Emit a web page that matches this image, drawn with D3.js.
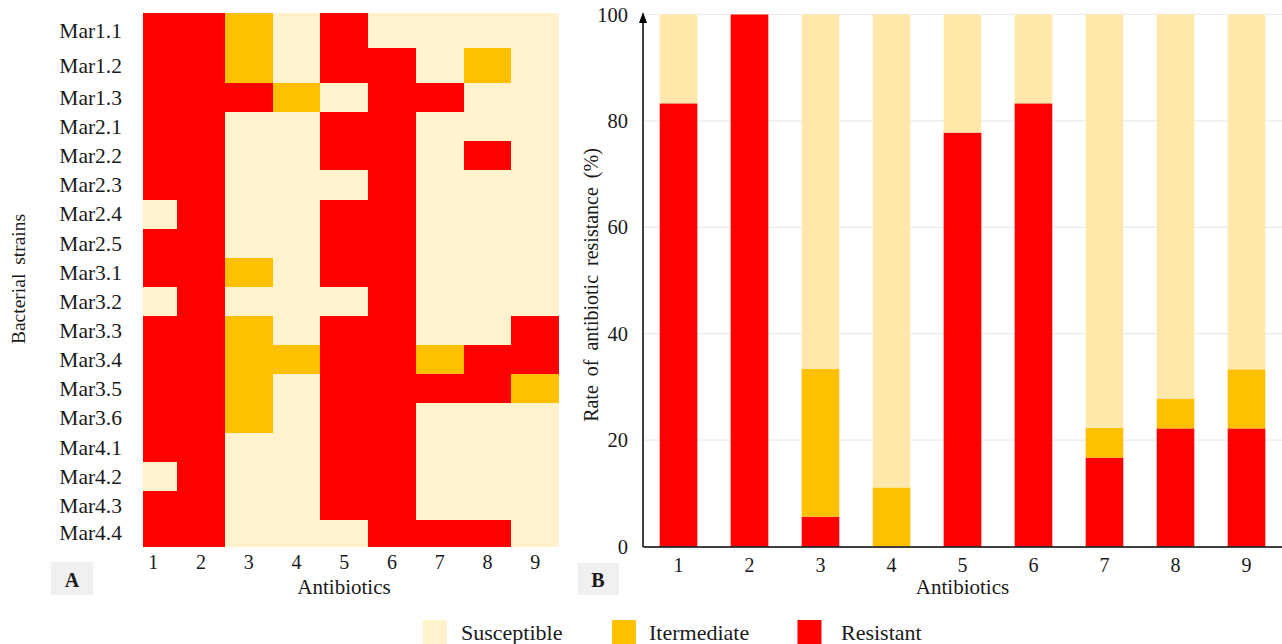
<!DOCTYPE html>
<html>
<head>
<meta charset="utf-8">
<script src="https://cdn.jsdelivr.net/npm/d3@7"></script>
<style>
  html, body { margin: 0; padding: 0; background: #fff; }
  svg { display: block; }
  svg text { font-family: "Liberation Serif", "Times New Roman", Times, serif !important; }
</style>
</head>
<body>
<svg id="chart" width="1282" height="644"></svg>
<script>
// ---------- DATA ----------
const strains = ["Mar1.1","Mar1.2","Mar1.3","Mar2.1","Mar2.2","Mar2.3","Mar2.4","Mar2.5",
  "Mar3.1","Mar3.2","Mar3.3","Mar3.4","Mar3.5","Mar3.6","Mar4.1","Mar4.2","Mar4.3","Mar4.4"];
const antibiotics = ["1","2","3","4","5","6","7","8","9"];
// per strain: status for antibiotics 1..9 (R = resistant, I = intermediate, S = susceptible)
const strainStatus = [
  "RRISRSSSS", // Mar1.1
  "RRISRRSIS", // Mar1.2
  "RRRISRRSS", // Mar1.3
  "RRSSRRSSS", // Mar2.1
  "RRSSRRSRS", // Mar2.2
  "RRSSSRSSS", // Mar2.3
  "SRSSRRSSS", // Mar2.4
  "RRSSRRSSS", // Mar2.5
  "RRISRRSSS", // Mar3.1
  "SRSSSRSSS", // Mar3.2
  "RRISRRSSR", // Mar3.3
  "RRIIRRIRR", // Mar3.4
  "RRISRRRRI", // Mar3.5
  "RRISRRSSS", // Mar3.6
  "RRSSRRSSS", // Mar4.1
  "SRSSRRSSS", // Mar4.2
  "RRSSRRSSS", // Mar4.3
  "RRSSSRRRS"  // Mar4.4
];
// panel B: rates (%) per antibiotic
const resistantRate    = [83.3, 100, 5.6, 0, 77.8, 83.3, 16.7, 22.2, 22.2];
const intermediateRate = [0, 0, 27.8, 11.1, 0, 0, 5.6, 5.6, 11.1];
const susceptibleRate  = [16.7, 0, 66.6, 88.9, 22.2, 16.7, 77.7, 72.2, 66.7];
const yTicks = [0, 20, 40, 60, 80, 100];
const legendLabels = ["Susceptible", "Itermediate", "Resistant"];
const statusCodes = ["S", "I", "R"];

// ---------- STYLE ----------
const heatColor = { S: "#FFF2CC", I: "#FFC000", R: "#FF0000" };
const barColor  = { S: "#FFE8AA", I: "#FFC000", R: "#FF0000" };
const FONT = '"Liberation Serif", "Times New Roman", serif';

const svg = d3.select("#chart");

// ---------- PANEL A : heatmap ----------
const xA = d3.scaleBand().domain(antibiotics).range([129.5, 559]).padding(0);
// row index -> pixel (the source image has its first two rows slightly taller)
const yA = d3.scaleLinear().domain([0, 2, strains.length - 1, strains.length]).range([13, 83, 520, 546]);

svg.append("clipPath").attr("id", "clipA")
  .append("rect").attr("x", 143).attr("y", 0).attr("width", 559 - 143).attr("height", 644);

const cells = [];
strains.forEach((s, i) => {
  antibiotics.forEach((a, j) => cells.push({ row: i, ab: a, st: strainStatus[i][j] }));
});

svg.append("g").attr("clip-path", "url(#clipA)").attr("shape-rendering", "crispEdges")
  .selectAll("rect").data(cells).join("rect")
  .attr("x", d => xA(d.ab))
  .attr("y", d => yA(d.row))
  .attr("width", xA.bandwidth() + 0.6)
  .attr("height", d => yA(d.row + 1) - yA(d.row) + 0.6)
  .attr("fill", d => heatColor[d.st]);

const axA_x = svg.append("g").attr("transform", "translate(0,546)")
  .call(d3.axisBottom(xA).tickSize(0).tickPadding(9));
axA_x.attr("font-family", FONT);
axA_x.select(".domain").remove();
axA_x.selectAll("text").attr("font-size", 20).attr("fill", "#1a1a1a");

const axA_y = svg.append("g").attr("transform", "translate(122,0)")
  .call(d3.axisLeft(yA).tickValues(d3.range(strains.length).map(i => i + 0.5))
    .tickFormat(v => strains[Math.floor(v)]).tickSize(0).tickPadding(0));
axA_y.attr("font-family", FONT);
axA_y.select(".domain").remove();
axA_y.selectAll("text").attr("font-size", 21.5).attr("fill", "#1a1a1a");

svg.append("text").attr("x", 344).attr("y", 594).attr("text-anchor", "middle")
  .attr("font-size", 21).attr("fill", "#1a1a1a").text("Antibiotics");

svg.append("text").attr("transform", "translate(25,279) rotate(-90)")
  .attr("text-anchor", "middle").attr("font-size", 19.5).attr("word-spacing", 4)
  .attr("fill", "#1a1a1a").text("Bacterial strains");

// panel label A
svg.append("rect").attr("x", 51).attr("y", 562).attr("width", 42).attr("height", 33).attr("fill", "#F0F0F0");
svg.append("text").attr("x", 72).attr("y", 587).attr("text-anchor", "middle")
  .attr("font-size", 20).attr("font-weight", "bold").attr("fill", "#1a1a1a").text("A");

// ---------- PANEL B : stacked bars ----------
const xB = d3.scaleBand().domain(antibiotics).range([643, 1282]).paddingInner(0.47).paddingOuter(0.235);
const yB = d3.scaleLinear().domain([0, 100]).range([546.5, 14.5]);

// gridlines
svg.append("g").selectAll("line").data(yTicks.filter(t => t > 0)).join("line")
  .attr("x1", 643).attr("x2", 1282)
  .attr("y1", d => yB(d)).attr("y2", d => yB(d))
  .attr("stroke", "#EBEBEB").attr("stroke-width", 1.2);

const barRows = antibiotics.map((a, i) => ({
  ab: a, R: resistantRate[i], I: intermediateRate[i], S: susceptibleRate[i]
}));
const stack = d3.stack().keys(["R", "I", "S"]);
const series = stack(barRows);

svg.append("g").selectAll("g").data(series).join("g")
  .attr("fill", d => barColor[d.key])
  .selectAll("rect").data(d => d).join("rect")
  .attr("x", d => xB(d.data.ab))
  .attr("width", xB.bandwidth())
  .attr("y", d => yB(Math.min(d[1], 100)))
  .attr("height", d => Math.max(0, yB(d[0]) - yB(Math.min(d[1], 100))));

// x axis
const axB_x = svg.append("g").attr("transform", "translate(0,546.5)")
  .call(d3.axisBottom(xB).tickSize(0).tickPadding(11));
axB_x.attr("font-family", FONT);
axB_x.select(".domain").attr("stroke", "#000").attr("stroke-width", 1.5);
axB_x.selectAll("text").attr("font-size", 20).attr("fill", "#1a1a1a");

// y axis
const axB_y = svg.append("g").attr("transform", "translate(643,0)")
  .call(d3.axisLeft(yB).tickValues(yTicks).tickSize(0).tickPadding(15));
axB_y.attr("font-family", FONT);
axB_y.select(".domain").remove();
axB_y.selectAll("text").attr("font-size", 20.5).attr("fill", "#1a1a1a");

svg.append("line").attr("x1", 643).attr("x2", 643).attr("y1", 547.2).attr("y2", 20)
  .attr("stroke", "#000").attr("stroke-width", 1.5);
svg.append("path").attr("d", "M643,12 L639,23 L647,23 Z").attr("fill", "#000");

svg.append("text").attr("x", 962.5).attr("y", 594).attr("text-anchor", "middle")
  .attr("font-size", 21).attr("fill", "#1a1a1a").text("Antibiotics");

svg.append("text").attr("transform", "translate(598,285) rotate(-90)")
  .attr("text-anchor", "middle").attr("font-size", 20).attr("word-spacing", 4)
  .attr("fill", "#1a1a1a").text("Rate of antibiotic resistance (%)");

// panel label B
svg.append("rect").attr("x", 578).attr("y", 563).attr("width", 41).attr("height", 32).attr("fill", "#F0F0F0");
svg.append("text").attr("x", 598).attr("y", 587).attr("text-anchor", "middle")
  .attr("font-size", 20).attr("font-weight", "bold").attr("fill", "#1a1a1a").text("B");

// ---------- LEGEND ----------
const legendOffsets = { S: 423, I: 612, R: 797.5 };
const lg = svg.append("g").selectAll("g").data(statusCodes).join("g")
  .attr("transform", d => `translate(${legendOffsets[d]},620)`);
lg.append("rect").attr("width", 24).attr("height", 24).attr("fill", d => heatColor[d]);
lg.append("text").attr("x", (d, i) => [38, 37, 43.5][i]).attr("y", 20)
  .attr("font-size", 22).attr("fill", "#1a1a1a")
  .text((d, i) => legendLabels[i]);
</script>
</body>
</html>
